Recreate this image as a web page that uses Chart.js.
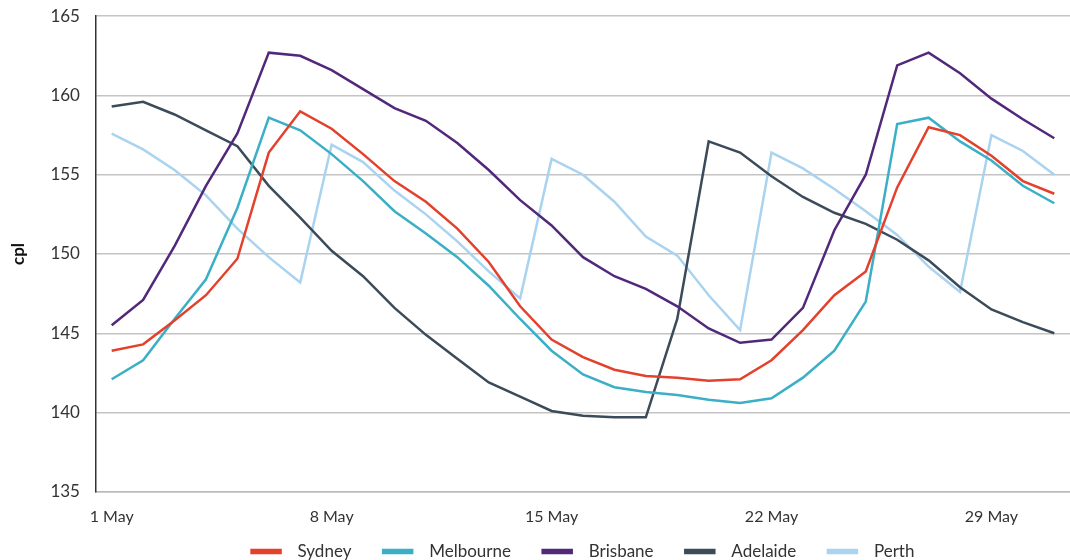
<!DOCTYPE html>
<html>
<head>
<meta charset="utf-8">
<script src="https://cdn.jsdelivr.net/npm/chart.js@4"></script>
<style>
  html, body { margin: 0; padding: 0; background: #fff; }
  #wrap { width: 1070px; height: 560px; }
</style>
</head>
<body>
<div id="wrap"><canvas id="myChart" width="1070" height="560"></canvas></div>
<script>
const ctx = document.getElementById('myChart');

// days of May
let labels = [];
for (let d = 1; d <= 31; d++) labels.push(d + ' May');

let sydneyData = [143.9, 144.3, 145.8, 147.4, 149.7, 156.4, 159.0, 157.9, 156.3, 154.6,
  153.3, 151.6, 149.5, 146.7, 144.6, 143.5, 142.7, 142.3, 142.2, 142.0,
  142.1, 143.3, 145.2, 147.4, 148.9, 154.2, 158.0, 157.5, 156.2, 154.6, 153.8];
let melbourneData = [142.1, 143.3, 145.9, 148.4, 152.9, 158.6, 157.8, 156.3, 154.6, 152.7,
  151.3, 149.8, 148.0, 145.9, 143.9, 142.4, 141.6, 141.3, 141.1, 140.8,
  140.6, 140.9, 142.2, 143.9, 147.0, 158.2, 158.6, 157.1, 155.9, 154.3, 153.2];
let brisbaneData = [145.5, 147.1, 150.5, 154.3, 157.6, 162.7, 162.5, 161.6, 160.4, 159.2,
  158.4, 157.0, 155.3, 153.4, 151.8, 149.8, 148.6, 147.8, 146.7, 145.3,
  144.4, 144.6, 146.6, 151.5, 155.0, 161.9, 162.7, 161.4, 159.8, 158.5, 157.3];
let adelaideData = [159.3, 159.6, 158.8, 157.8, 156.8, 154.3, 152.3, 150.2, 148.6, 146.6,
  144.9, 143.4, 141.9, 141.0, 140.1, 139.8, 139.7, 139.7, 145.9, 157.1,
  156.4, 154.9, 153.6, 152.6, 151.9, 150.9, 149.6, 147.9, 146.5, 145.7, 145.0];
let perthData = [157.6, 156.6, 155.3, 153.7, 151.6, 149.8, 148.2, 156.9, 155.8, 154.0,
  152.5, 150.8, 148.9, 147.2, 156.0, 155.0, 153.3, 151.1, 149.9, 147.4,
  145.2, 156.4, 155.4, 154.1, 152.7, 151.2, 149.2, 147.6, 157.5, 156.5, 155.0];

const yTicks = [135, 140, 145, 150, 155, 160, 165];

function line(label, values, colour) {
    return {
        label: label,
        data: values,
        borderColor: colour,
        backgroundColor: colour,
        borderWidth: 2.5,
        pointRadius: 0,
        fill: false,
        tension: 0
    };
}

const data = {
    labels: labels,
    datasets: [
        line('Sydney', sydneyData, '#e4412d'),
        line('Melbourne', melbourneData, '#3aafc5'),
        line('Brisbane', brisbaneData, '#52287a'),
        line('Adelaide', adelaideData, '#3c4b59'),
        line('Perth', perthData, '#a9d3ee')
    ]
};

const visibleChart = new Chart(ctx, {
    type: 'line',
    data: data,
    options: {
        responsive: false,
        animation: false,
        layout: { padding: { left: 8, right: 0, top: 0, bottom: -10 } },
        plugins: {
            tooltip: { enabled: false },
            legend: {
                position: 'bottom',
                fullSize: false,
                labels: {
                    boxWidth: 29,
                    boxHeight: 3,
                    padding: 2,
                    color: '#333',
                    font: { family: 'Lato', size: 17 },
                    // wider gaps: en space before the name, more space after it (not after the last)
                    generateLabels: function (chart) {
                        const items = Chart.defaults.plugins.legend.labels.generateLabels(chart);
                        return items.map((item, i) => {
                            item.text = '\u2002' + item.text + (i < items.length - 1 ? '\u2003\u2003\u2009\u2009' : '');
                            return item;
                        });
                    }
                }
            }
        },
        scales: {
            x: {
                offset: true,
                grid: { display: false, drawTicks: false },
                border: { color: '#bbbbbb', width: 1.5 },
                ticks: {
                    autoSkip: false,
                    maxRotation: 0,
                    color: '#333',
                    padding: 15,
                    font: { family: 'Lato', size: 16 },
                    callback: function (value, index) {
                        return index % 7 === 0 ? labels[index] : '';
                    }
                }
            },
            y: {
                min: 135,
                max: 165,
                afterBuildTicks: function (axis) {
                    axis.ticks = yTicks.map(v => ({ value: v }));
                },
                grid: { color: '#c4c4c4', lineWidth: 1.5, drawTicks: true, tickLength: 10, tickColor: 'rgba(0,0,0,0)' },
                border: { color: '#333', width: 1.5 },
                title: {
                    display: true,
                    text: 'cpl',
                    color: '#111',
                    font: { family: 'Lato', size: 17, weight: 'bold' },
                    padding: { top: 0, bottom: 16 }
                },
                ticks: {
                    color: '#333',
                    padding: 6,
                    font: { family: 'Lato', size: 17 }
                }
            }
        }
    }
});
</script>
</body>
</html>
